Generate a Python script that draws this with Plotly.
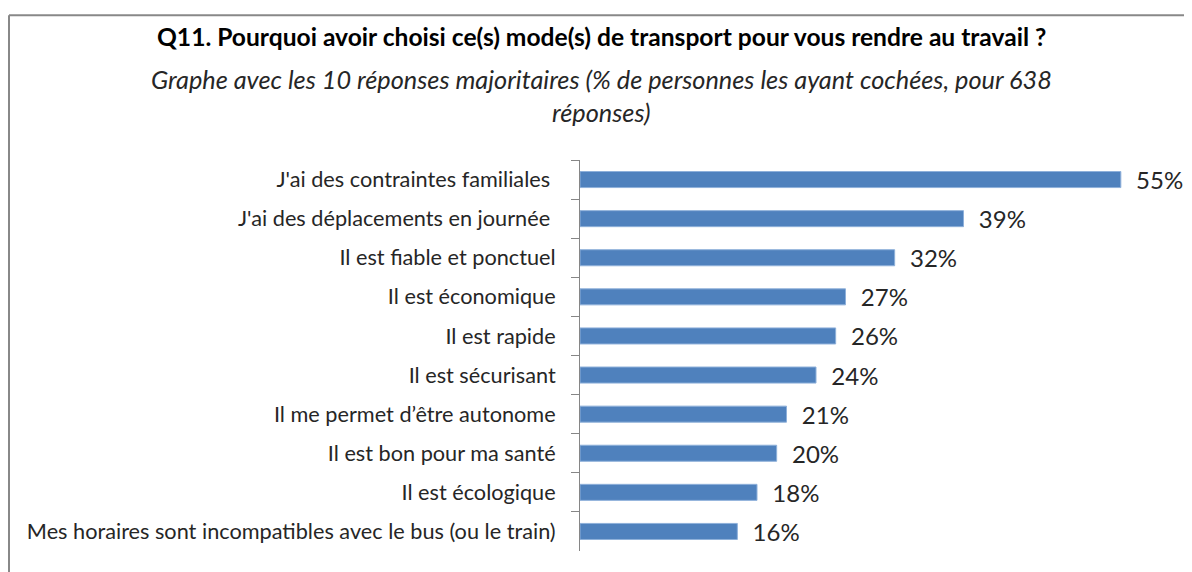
import plotly.graph_objects as go

# data (top to bottom as shown)
reasons = [
    "J'ai des contraintes familiales ",
    "J'ai des déplacements en journée ",
    "Il est fiable et ponctuel",
    "Il est économique",
    "Il est rapide",
    "Il est sécurisant",
    "Il me permet d’être autonome",
    "Il est bon pour ma santé",
    "Il est écologique",
    "Mes horaires sont incompatibles avec le bus (ou le train)",
]
pct = [55, 39, 32, 27, 26, 24, 21, 20, 18, 16]
pct_labels = [f"{v}%" for v in pct]

font_main = "Lato, 'Open Sans', sans-serif"

fig = go.Figure(go.Bar(
    x=pct, y=reasons, orientation="h",
    text=pct_labels, texttemplate="\u00a0\u00a0%{text}",
    textposition="outside", cliponaxis=False, constraintext="none",
    textfont=dict(size=24, color="#262626", family=font_main),
    marker=dict(color="#4F81BD", line=dict(color="#8EB0DA", width=1)),
    width=0.41,
))

# page body has an 8px margin, so the figure is a bit smaller than the window
fig.update_layout(
    width=1184, height=564,
    margin=dict(l=572, r=22, t=152, b=21, pad=0),
    plot_bgcolor="white", paper_bgcolor="white",
    showlegend=False,
    font=dict(family=font_main, color="#262626"),
    annotations=[
        dict(text="<b>Q11. Pourquoi avoir choisi ce(s) mode(s) de transport pour vous rendre au travail ?</b>",
             xref="paper", yref="paper", x=0.037, y=1.316, xanchor="center", yanchor="middle",
             showarrow=False, font=dict(size=24.6, color="#000000")),
        dict(text="<i>Graphe avec les 10 réponses majoritaires (% de personnes les ayant cochées, pour 638</i>",
             xref="paper", yref="paper", x=0.037, y=1.206, xanchor="center", yanchor="middle",
             showarrow=False, font=dict(size=25.3, color="#262626")),
        dict(text="<i>réponses)</i>",
             xref="paper", yref="paper", x=0.037, y=1.124, xanchor="center", yanchor="middle",
             showarrow=False, font=dict(size=25.3, color="#262626")),
    ],
    shapes=[
        # chart frame (top and left edges visible)
        dict(type="line", xref="paper", yref="paper", x0=-0.9678, x1=1.1, y0=1.370, y1=1.370,
             line=dict(color="#888888", width=2)),
        dict(type="line", xref="paper", yref="paper", x0=-0.9678, x1=-0.9678, y0=1.370, y1=-0.2,
             line=dict(color="#888888", width=2)),
    ],
)

fig.update_xaxes(range=[0, 60], visible=False, automargin=False)
fig.update_yaxes(
    autorange="reversed", showline=True, linecolor="#868686", linewidth=1,
    ticks="outside", ticklen=8, tickcolor="#868686", tickson="boundaries",
    tickfont=dict(size=21.7, color="#262626", family=font_main),
    ticklabelstandoff=19, showgrid=False, automargin=False,
)

fig.write_html("out.html")
